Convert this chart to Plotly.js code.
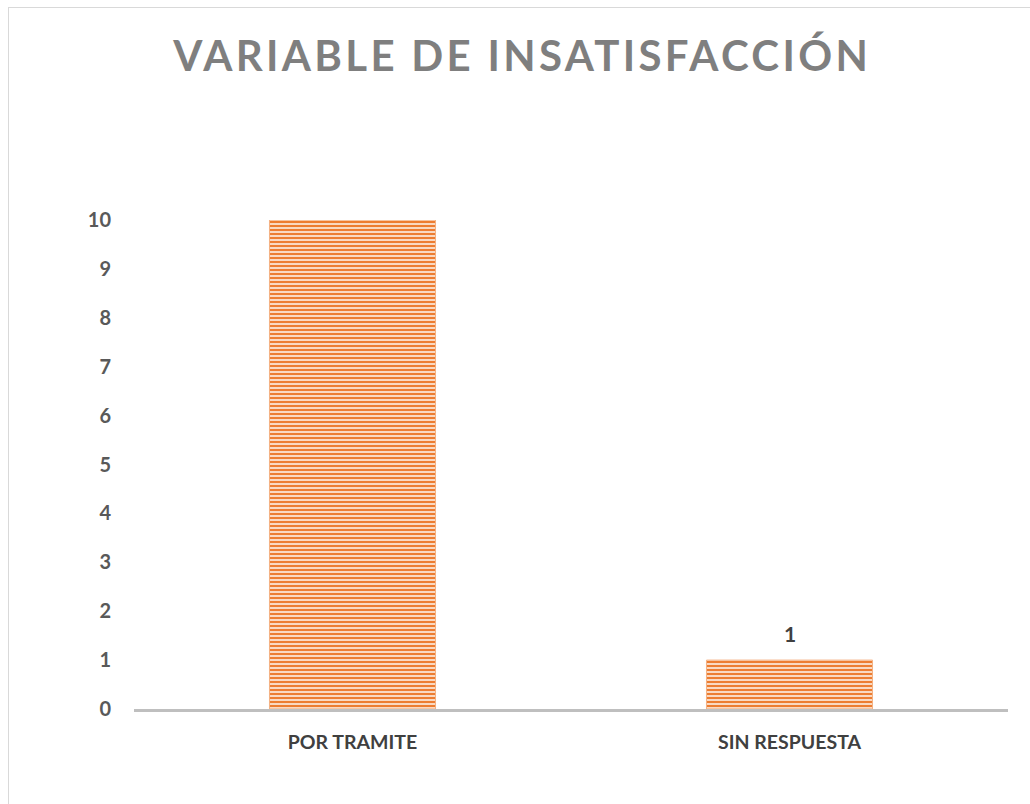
<!DOCTYPE html>
<html>
<head>
<meta charset="utf-8">
<script src="https://cdn.plot.ly/plotly-3.0.1.min.js"></script>
<style>
  html, body { margin: 0; padding: 0; background: #fff; }
  #wrap { position: relative; width: 1030px; height: 804px; overflow: hidden; }
  #chart { width: 1030px; height: 804px; }
  #frame { position: absolute; left: 8px; top: 7px; width: 1040px; height: 820px;
           border-left: 1.5px solid #D9D9D9; border-top: 1.5px solid #D9D9D9; pointer-events: none; }
  .gtitle { letter-spacing: 3.3px; }
</style>
</head>
<body>
<div id="wrap">
  <div id="chart"></div>
  <div id="frame"></div>
</div>
<script>
const categories = ["POR TRAMITE", "SIN RESPUESTA"];
const values = [10, 1];
const valueLabels = ["", "1"];
const yTicks = [0, 1, 2, 3, 4, 5, 6, 7, 8, 9, 10];
const chartTitle = "VARIABLE DE INSATISFACCIÓN";

const FONT = "Lato, 'Open Sans', sans-serif";

const trace = {
  type: "bar",
  x: categories,
  y: values,
  width: 0.38,
  cliponaxis: false,
  marker: {
    color: "#FBE3D2",
    line: { color: "#F4B183", width: 1 },
    pattern: { shape: "-", fgcolor: "#ED7D31", bgcolor: "#FBE3D2", size: 4, solidity: 0.55 }
  },
  hoverinfo: "none"
};

const annotations = categories.map((c, i) => ({
  x: c,
  y: values[i],
  xref: "x",
  yref: "y",
  text: valueLabels[i],
  showarrow: false,
  yanchor: "bottom",
  yshift: 12,
  font: { family: FONT, size: 21, color: "#404040", weight: "bold" }
})).filter(a => a.text !== "");

const layout = {
  width: 1030,
  height: 804,
  paper_bgcolor: "#ffffff",
  plot_bgcolor: "#ffffff",
  margin: { l: 134, r: 22, t: 220, b: 95 },
  showlegend: false,
  annotations: annotations,
  title: {
    text: chartTitle,
    x: 0.507,
    xanchor: "center",
    y: 0.93,
    yanchor: "middle",
    font: { family: FONT, size: 42, color: "#7F7F7F", weight: "bold" }
  },
  xaxis: {
    type: "category",
    showgrid: false,
    zeroline: false,
    showline: true,
    linecolor: "#BFBFBF",
    linewidth: 2.5,
    ticks: "",
    ticklabelstandoff: 14,
    tickfont: { family: FONT, size: 19.5, color: "#404040", weight: "bold" }
  },
  yaxis: {
    range: [0, 10],
    tickvals: yTicks,
    ticktext: yTicks.map(String),
    showgrid: false,
    zeroline: false,
    showline: false,
    ticks: "",
    ticklabelstandoff: 22,
    tickfont: { family: FONT, size: 20, color: "#595959", weight: "bold" }
  }
};

Plotly.newPlot("chart", [trace], layout, { staticPlot: true, displayModeBar: false });
</script>
</body>
</html>
